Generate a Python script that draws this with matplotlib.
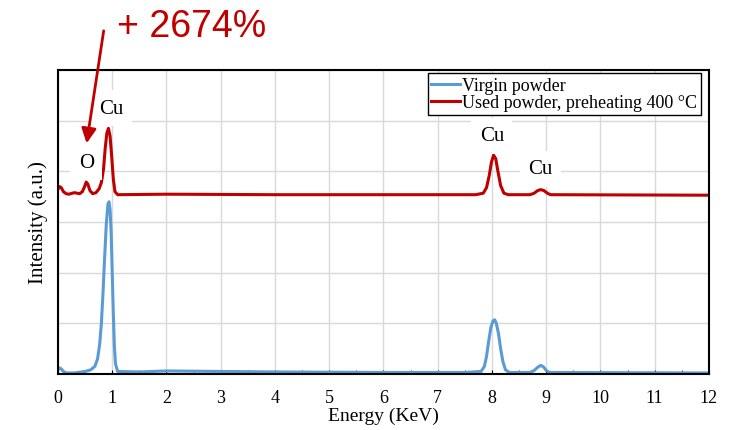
import matplotlib.pyplot as plt
from matplotlib.ticker import MultipleLocator

# EDS spectra, points
virgin_x = [0.0, 0.03, 0.06, 0.1, 0.15, 0.3, 0.5, 0.6, 0.68, 0.73, 0.77, 0.8, 0.83, 0.86,
            0.89, 0.92, 0.94, 0.96, 0.98, 1.0, 1.02, 1.04, 1.06, 1.1, 1.5, 2.0, 3.0, 4.0,
            6.0, 7.5, 7.8, 7.86, 7.9, 7.94, 7.98, 8.02, 8.05, 8.08, 8.12, 8.16, 8.2, 8.25,
            8.32, 8.7, 8.78, 8.84, 8.9, 8.95, 9.0, 9.06, 12.0]
virgin_y = [0.08, 0.12, 0.1, 0.05, 0.02, 0.02, 0.05, 0.08, 0.15, 0.3, 0.6, 1.0, 1.6, 2.3,
            2.95, 3.35, 3.4, 3.25, 2.8, 2.0, 1.2, 0.55, 0.2, 0.05, 0.04, 0.06, 0.05, 0.04,
            0.03, 0.03, 0.05, 0.15, 0.35, 0.65, 0.92, 1.05, 1.07, 1.0, 0.8, 0.5, 0.25, 0.08,
            0.03, 0.03, 0.07, 0.13, 0.17, 0.14, 0.07, 0.03, 0.02]

used_x = [0.0, 0.03, 0.06, 0.1, 0.15, 0.2, 0.3, 0.4, 0.45, 0.49, 0.52, 0.55, 0.59, 0.64,
          0.7, 0.76, 0.8, 0.84, 0.87, 0.9, 0.93, 0.96, 0.99, 1.02, 1.05, 1.1, 2.0, 4.0,
          7.7, 7.84, 7.9, 7.95, 7.99, 8.03, 8.07, 8.11, 8.16, 8.22, 8.3, 8.7, 8.78, 8.84,
          8.9, 8.96, 9.02, 9.08, 12.0]
used_y = [3.65, 3.7, 3.68, 3.6, 3.56, 3.55, 3.58, 3.56, 3.6, 3.7, 3.79, 3.75, 3.62, 3.56,
          3.58, 3.66, 3.78, 4.05, 4.45, 4.75, 4.85, 4.7, 4.3, 3.85, 3.6, 3.54, 3.55, 3.54,
          3.54, 3.57, 3.68, 3.92, 4.18, 4.32, 4.25, 4.0, 3.72, 3.57, 3.54, 3.54, 3.57, 3.62,
          3.64, 3.62, 3.57, 3.54, 3.53]

# peak labels
peak_names = ['Cu', 'O', 'Cu', 'Cu']
peak_x = [0.98, 0.52, 8.0, 8.9]
peak_y = [5.25, 4.18, 4.7, 4.05]

serif = 'Liberation Serif'
blue = '#5B9BD5'
red = '#C00000'

fig = plt.figure(figsize=(7.33, 4.31), dpi=100)
ax = fig.add_axes([0.0791, 0.13, 0.8881, 0.705])

ax.plot(virgin_x, virgin_y, color=blue, lw=2.2, label='Virgin powder')
ax.plot(used_x, used_y, color=red, lw=2.2, label='Used powder, preheating 400 °C')

for name, px, py in zip(peak_names, peak_x, peak_y):
    ax.text(px, py, name, ha='center', va='center', fontsize=15, family=serif,
            bbox=dict(facecolor='white', edgecolor='none', pad=6), zorder=3)

ax.set_xlim(0, 12)
ax.set_ylim(0, 6)
ax.xaxis.set_major_locator(MultipleLocator(1))
ax.xaxis.set_minor_locator(MultipleLocator(0.5))
ax.yaxis.set_major_locator(MultipleLocator(1))
ax.grid(True, color='#d9d9d9', lw=1)
ax.set_axisbelow(True)
ax.tick_params(axis='x', which='both', direction='in', length=3, labelsize=13, pad=11)
ax.tick_params(axis='y', left=False, labelleft=False)
for lab in ax.get_xticklabels():
    lab.set_family(serif)
for sp in ax.spines.values():
    sp.set_linewidth(1.5)

ax.set_xlabel('Energy (KeV)', family=serif, fontsize=14, labelpad=0.5)
ax.set_ylabel('Intensity (a.u.)', family=serif, fontsize=15, labelpad=7)

leg = ax.legend(loc='upper right', prop={'family': serif, 'size': 13}, fancybox=False,
                edgecolor='black', framealpha=1, handlelength=1.6, handletextpad=0.1,
                labelspacing=0.0, borderpad=0.2, borderaxespad=0.1,
                bbox_to_anchor=(0.99, 0.995))
leg.get_frame().set_linewidth(1)

# annotation above the plot
fig.text(0.16, 0.937, '+ 2674%', color=red, fontsize=27, family='Liberation Sans',
         ha='left', va='center')
ax.annotate('', xy=(0.52, 4.5), xytext=(0.85, 6.83), annotation_clip=False,
            arrowprops=dict(arrowstyle='-|>', color=red, lw=2, mutation_scale=22))

fig.savefig('out.png', dpi=100)
